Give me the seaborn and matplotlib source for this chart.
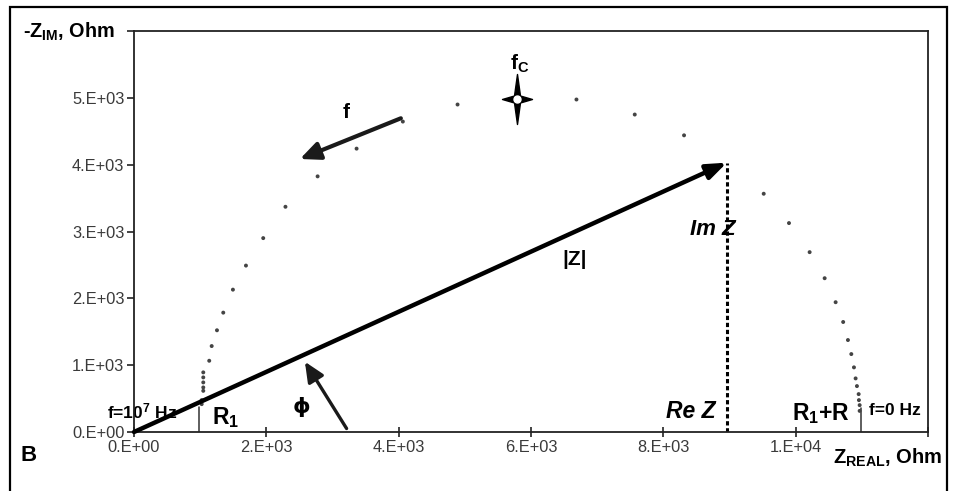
import numpy as np
import pandas as pd
import matplotlib
matplotlib.use("Agg")
import matplotlib.pyplot as plt
import seaborn as sns
from matplotlib.path import Path
from matplotlib.patches import Rectangle

# ---- data ----
z_real = [1023, 1023, 1047, 1047, 1047, 1047, 1047, 1137, 1174, 1254, 1349, 1495,
          1692, 1953, 2289, 2775, 3364, 4063, 4890, 6687, 7568, 8313, 9517, 9899,
          10211, 10438, 10604, 10718, 10790, 10841, 10881, 10906, 10926, 10952,
          10956, 10967, 10967]
z_imag = [417, 477, 616, 667, 742, 817, 892, 1066, 1286, 1522, 1786, 2130,
          2490, 2901, 3370, 3825, 4240, 4645, 4900, 4975, 4750, 4439, 3565, 3126,
          2691, 2301, 1942, 1646, 1376, 1166, 967, 802, 687, 567,
          477, 402, 316]
fc_point = [5781, 4985]          # characteristic frequency marker
z_vector_tip = [8960, 4030]      # |Z| vector end (Re Z, Im Z)
r1_value = 975                   # R1 intercept
r1_plus_r_value = 10980          # R1+R intercept
x_ticks = [0, 2000, 4000, 6000, 8000, 10000, 12000]
x_tick_labels = ["0.E+00", "2.E+03", "4.E+03", "6.E+03", "8.E+03", "1.E+04", ""]
y_ticks = [0, 1000, 2000, 3000, 4000, 5000, 6000]
y_tick_labels = ["0.E+00", "1.E+03", "2.E+03", "3.E+03", "4.E+03", "5.E+03", ""]

df = pd.DataFrame({"Zreal": z_real, "Zim": z_imag})

sns.set_theme(style="ticks")
plt.rcParams["font.family"] = ["Liberation Sans", "DejaVu Sans"]
plt.rcParams["mathtext.fontset"] = "custom"
plt.rcParams["mathtext.rm"] = "Liberation Sans"
plt.rcParams["mathtext.it"] = "Liberation Sans:italic"
plt.rcParams["mathtext.bf"] = "Liberation Sans:bold"

fig = plt.figure(figsize=(9.57, 4.91), dpi=100)
ax = fig.add_axes([134/957, 1-432/491, (928-134)/957, (432-31)/491])

sns.scatterplot(data=df, x="Zreal", y="Zim", ax=ax, s=8, color="#444444",
                edgecolor="none", legend=False, zorder=3)

ax.set_xlim(0, 12000)
ax.set_ylim(0, 6000)
ax.set_xticks(x_ticks)
ax.set_xticklabels(x_tick_labels)
ax.set_yticks(y_ticks)
ax.set_yticklabels(y_tick_labels)
ax.set_xlabel("")
ax.set_ylabel("")
for s in ax.spines.values():
    s.set_linewidth(1.3)
    s.set_color("#222222")
ax.tick_params(axis="x", direction="inout", length=7, width=1.2, color="#222222",
               labelsize=11.8, labelcolor="#3a3a3a", pad=2)
ax.tick_params(axis="y", direction="out", length=5, width=1.2, color="#222222",
               labelsize=11.8, labelcolor="#3a3a3a", pad=2)

# fc star marker
star = Path([(0, 1), (0.12, 0.14), (0.6, 0), (0.12, -0.14), (0, -1), (-0.12, -0.14),
             (-0.6, 0), (-0.12, 0.14), (0, 1)],
            [Path.MOVETO] + [Path.LINETO]*7 + [Path.CLOSEPOLY])
ax.plot([fc_point[0]], [fc_point[1]], marker=star, markersize=36, color="black",
        linestyle="none", zorder=4)
ax.plot([fc_point[0]], [fc_point[1]], marker="o", markersize=5, color="white",
        markeredgecolor="white", linestyle="none", zorder=5)

# thin vertical lines at R1 and R1+R
ax.plot([r1_value, r1_value], [0, 376], color="#333333", lw=1.1, zorder=2)
ax.plot([r1_plus_r_value, r1_plus_r_value], [0, 357], color="#333333", lw=1.1, zorder=2)

# dashed Im Z line
ax.plot([z_vector_tip[0], z_vector_tip[0]], [0, z_vector_tip[1]], color="black",
        lw=2.2, linestyle=(0, (1.4, 0.9)), zorder=2)

# |Z| arrow
ax.annotate("", xy=(z_vector_tip[0], z_vector_tip[1]), xytext=(0, 0),
            arrowprops=dict(arrowstyle="-|>,head_length=1.0,head_width=0.38",
                            lw=3.2, color="black", shrinkA=0, shrinkB=0), zorder=6)
# f arrow
ax.annotate("", xy=(2508, 4085), xytext=(4033, 4694),
            arrowprops=dict(arrowstyle="-|>,head_length=1.0,head_width=0.45",
                            lw=3, color="#1a1a1a", shrinkA=0, shrinkB=0))
# phi arrow
ax.annotate("", xy=(2583, 1051), xytext=(3213, 52),
            arrowprops=dict(arrowstyle="-|>,head_length=1.0,head_width=0.45",
                            lw=2.4, color="#1a1a1a", shrinkA=0, shrinkB=0))

kw = dict(clip_on=False, color="black")
ax.text(-290, 5994, r"-Z$_{\mathbf{IM}}$, Ohm", ha="right", va="center",
        fontsize=14.3, fontweight="bold", **kw)
ax.text(10560, -388, r"Z$_{\mathbf{REAL}}$, Ohm", ha="left", va="center",
        fontsize=14.5, fontweight="bold", **kw)
ax.text(-1590, -348, "B", ha="center", va="center", fontsize=16, fontweight="bold", **kw)
ax.text(3213, 4775, "f", ha="center", va="center", fontsize=15, fontweight="bold", **kw)
ax.text(5831, 5514, r"f$_{\mathbf{C}}$", ha="center", va="center", fontsize=15,
        fontweight="bold", **kw)
ax.text(6662, 2586, "|Z|", ha="center", va="center", fontsize=15, fontweight="bold", **kw)
ax.text(8751, 3025, "Im Z", ha="center", va="center", fontsize=16,
        fontweight="bold", fontstyle="italic", **kw)
ax.text(8421, 301, "Re Z", ha="center", va="center", fontsize=16.5,
        fontweight="bold", fontstyle="italic", **kw)
ax.text(10378, 282, r"R$_{\mathbf{1}}$+R", ha="center", va="center", fontsize=16.5,
        fontweight="bold", **kw)
ax.text(11495, 327, "f=0 Hz", ha="center", va="center", fontsize=12.5,
        fontweight="bold", **kw)
ax.text(116, 301, r"f=10$^{\mathbf{7}}$ Hz", ha="center", va="center", fontsize=12.5,
        fontweight="bold", zorder=1, **kw)
ax.text(1390, 222, r"R$_{\mathbf{1}}$", ha="center", va="center", fontsize=16.5,
        fontweight="bold", **kw)
ax.text(2533, 376, "\u03d5", ha="center", va="center", fontsize=16,
        family=["DejaVu Sans"], fontweight="bold", **kw)

# outer frame
fig.patches.append(Rectangle((10/957, -0.05), (947-10)/957, 1.05-7/491,
                             transform=fig.transFigure, fill=False, lw=1.6,
                             edgecolor="black"))

fig.savefig("out.png", dpi=100)
